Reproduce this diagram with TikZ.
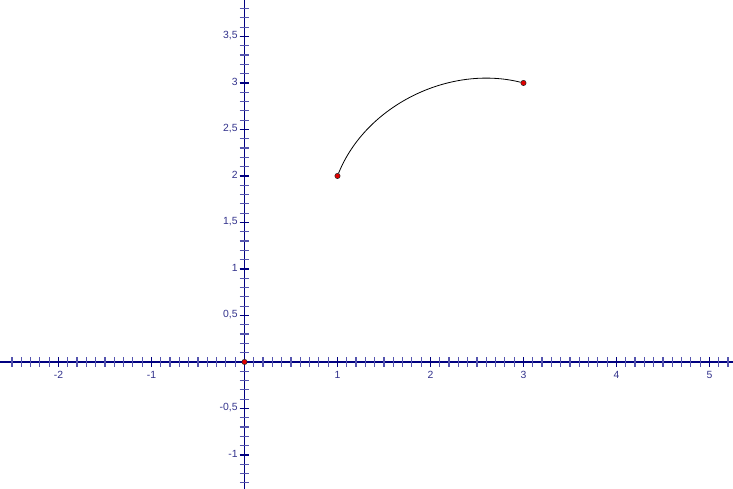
\documentclass[tikz,border=0pt]{standalone}
\usepackage{fontspec}
\setsansfont{Liberation Sans}
\usepackage{xcolor}
\usetikzlibrary{arrows.meta,positioning,calc}
\definecolor{AxisBlue}{RGB}{0,0,128}
\definecolor{TickBlue}{RGB}{85,85,175}
\definecolor{LabelBlue}{RGB}{50,50,140}
\definecolor{PointRed}{RGB}{225,0,0}

\begin{document}
\begin{tikzpicture}[
  x=69.75pt, y=69.75pt,
  font=\sffamily\fontsize{7.8}{9}\selectfont,
  axisline/.style={draw=AxisBlue, line width=1.1pt},
  minortick/.style={draw=TickBlue, line width=0.9pt},
  majortick/.style={draw=AxisBlue, line width=1pt},
  ticklabel/.style={text=LabelBlue, inner sep=1pt},
  dotpt/.style={circle, draw=black!85, fill=PointRed, line width=0.4pt, inner sep=0pt, minimum size=4pt},
]
\useasboundingbox (-2.629,-1.366) rectangle (5.253,3.892);
\coordinate (xl) at (-2.629,0);
\coordinate (xr) at (5.253,0);
\coordinate (yb) at (0,-1.366);
\coordinate (yt) at (0,3.892);
\draw[axisline] (xl) -- (xr);
\draw[axisline] (yb) -- (yt);
\foreach \i in {-25,...,52}
  \draw[minortick] (\i/10,0) +(0,-3.6pt) -- +(0,3.6pt);
\foreach \i in {-13,...,38}
  \draw[minortick] (0,\i/10) +(-3.6pt,0) -- +(3.6pt,0);
\foreach \i in {-2,...,5}
  \draw[majortick] (\i,0) +(0,-3.6pt) -- +(0,3.6pt);
\foreach \i in {-2,...,7}
  \draw[majortick] (0,\i/2) +(-3.6pt,0) -- +(3.6pt,0);
\foreach \v [count=\k] in {-2,-1,1,2,3,4,5}
  \node[ticklabel, anchor=north] (xlab\k) at ($(\v,0)+(0,-5.5pt)$) {\v};
\foreach \v/\t [count=\k] in {3.5/{3,5},3/3,2.5/{2,5},2/2,1.5/{1,5},1/1,0.5/{0,5},-0.5/{-0,5},-1/-1}
  \node[ticklabel, anchor=east] (ylab\k) at ($(0,\v)+(-4pt,1pt)$) {\t};
\node[dotpt] (O) at (0,0) {};
\node[dotpt] (A) at (1,2) {};
\node[dotpt] (B) at (3,3) {};
\draw[black, line width=0.6pt] (A) to[out=68, in=166, looseness=0.92] (B);
\end{tikzpicture}
\end{document}
